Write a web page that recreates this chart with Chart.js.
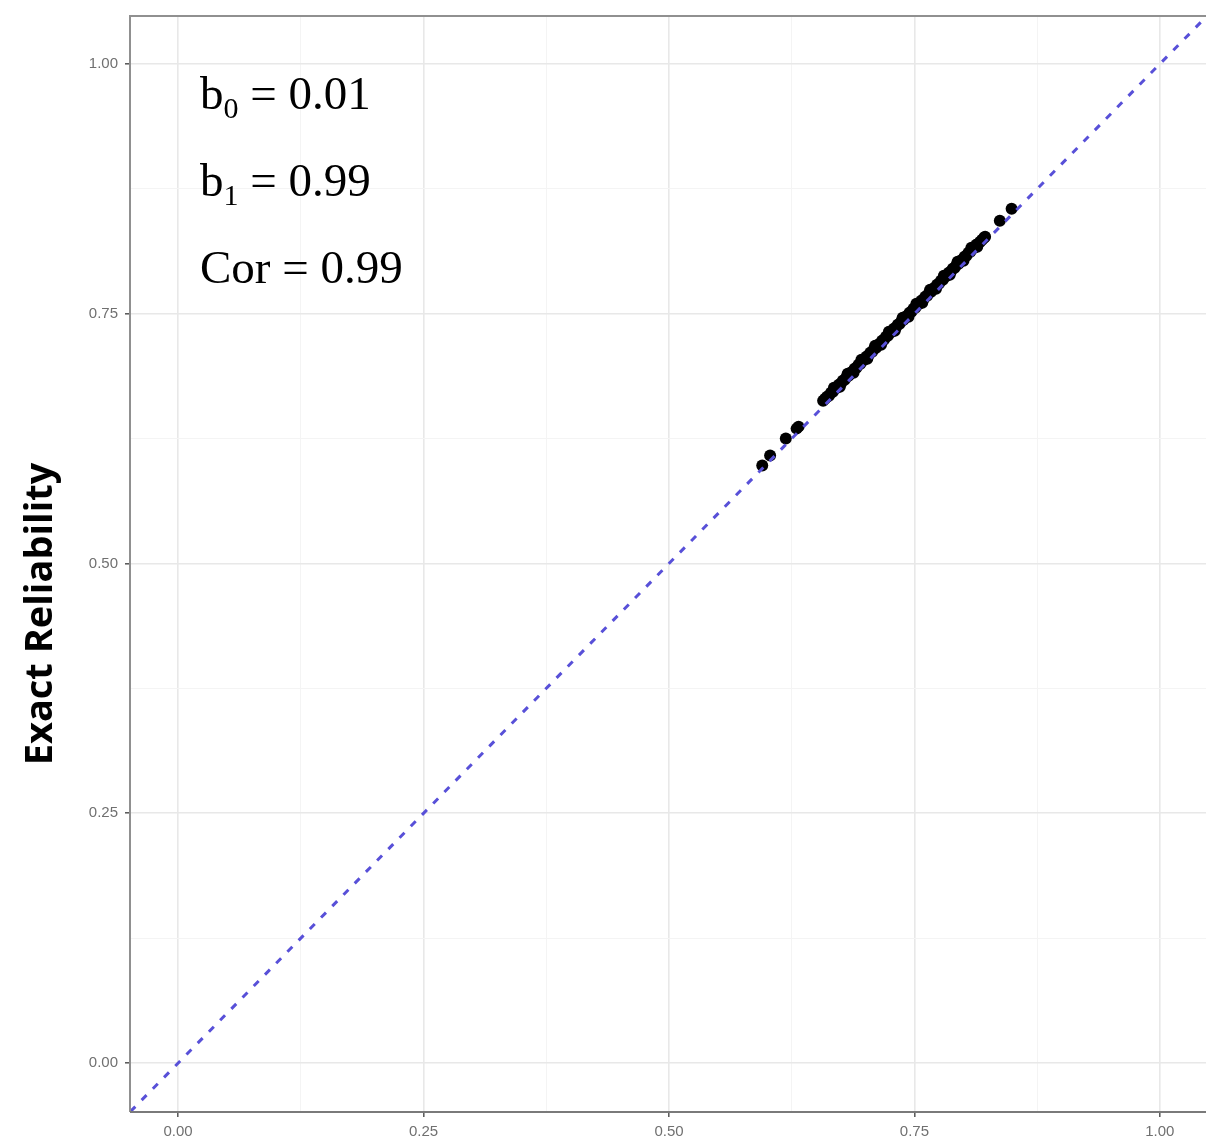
<!DOCTYPE html>
<html>
<head>
<meta charset="utf-8">
<script src="https://cdn.jsdelivr.net/npm/chart.js@4.4.1/dist/chart.umd.min.js"></script>
<style>
  html, body { margin: 0; padding: 0; background: #fff; overflow: hidden; }
  #wrap { width: 1212px; height: 1141px; position: relative; }
</style>
</head>
<body>
<div id="wrap"><canvas id="plotarea"></canvas></div>
<script>
// axis settings
const axisMin = -0.049;
const xAxisMax = 1.047;
const yAxisMax = 1.048;
const majorTicks = [0, 0.25, 0.5, 0.75, 1];
const gridTicks = [0, 0.125, 0.25, 0.375, 0.5, 0.625, 0.75, 0.875, 1];

// reference line y = x
const refLineX = [-0.06, 1.06];
const refLineY = [-0.06, 1.06];

// approximate vs exact reliability
const approxRel = [
  0.595, 0.603, 0.619, 0.630, 0.632,
  0.657, 0.659, 0.661, 0.663, 0.665, 0.667, 0.669, 0.671, 0.673, 0.675,
  0.677, 0.679, 0.681, 0.683, 0.685, 0.687, 0.689, 0.691, 0.693, 0.695,
  0.697, 0.699, 0.701, 0.703, 0.705, 0.707, 0.709, 0.711, 0.713, 0.715,
  0.717, 0.719, 0.721, 0.723, 0.725, 0.727, 0.729, 0.731, 0.733, 0.735,
  0.737, 0.739, 0.741, 0.743, 0.745, 0.747, 0.749, 0.751, 0.753, 0.755,
  0.757, 0.759, 0.761, 0.763, 0.765, 0.767, 0.769, 0.771, 0.773, 0.775,
  0.777, 0.779, 0.781, 0.783, 0.785, 0.787, 0.789, 0.791, 0.793, 0.795,
  0.797, 0.799, 0.801, 0.803, 0.805, 0.807, 0.809, 0.811, 0.813, 0.815,
  0.817, 0.819, 0.821, 0.822,
  0.668, 0.682, 0.696, 0.710, 0.724, 0.738, 0.752, 0.766, 0.780, 0.794, 0.808,
  0.674, 0.688, 0.702, 0.716, 0.730, 0.744, 0.758, 0.772, 0.786, 0.800, 0.814,
  0.837, 0.849
];
const exactRel = [
  0.598, 0.608, 0.625, 0.635, 0.637,
  0.663, 0.665, 0.667, 0.668, 0.671, 0.672, 0.675, 0.676, 0.679, 0.680,
  0.683, 0.684, 0.687, 0.688, 0.691, 0.692, 0.695, 0.696, 0.699, 0.700,
  0.703, 0.704, 0.707, 0.708, 0.711, 0.712, 0.715, 0.716, 0.719, 0.720,
  0.723, 0.724, 0.727, 0.728, 0.731, 0.732, 0.735, 0.736, 0.739, 0.740,
  0.743, 0.744, 0.747, 0.748, 0.751, 0.752, 0.755, 0.756, 0.759, 0.760,
  0.763, 0.764, 0.767, 0.768, 0.771, 0.772, 0.775, 0.776, 0.779, 0.780,
  0.783, 0.784, 0.787, 0.788, 0.791, 0.792, 0.795, 0.796, 0.799, 0.800,
  0.803, 0.804, 0.807, 0.808, 0.811, 0.812, 0.815, 0.816, 0.819, 0.820,
  0.822, 0.824, 0.826, 0.827,
  0.676, 0.690, 0.704, 0.718, 0.732, 0.746, 0.760, 0.774, 0.788, 0.802, 0.816,
  0.677, 0.691, 0.705, 0.719, 0.733, 0.747, 0.761, 0.775, 0.789, 0.803, 0.817,
  0.843, 0.855
];

// annotation text
const statNames = [["b", "0"], ["b", "1"], ["Cor", ""]];
const statValues = ["0.01", "0.99", "0.99"];
const yTitle = "Exact Reliability";

const isMajor = v => majorTicks.some(m => Math.abs(m - v) < 1e-6);

const panelPlugin = {
  id: 'panel',
  afterDatasetsDraw(chart) {
    const { ctx, chartArea: a } = chart;
    ctx.save();
    // panel border: top, left, bottom
    ctx.strokeStyle = '#909090';
    ctx.lineWidth = 2;
    ctx.beginPath();
    ctx.moveTo(a.left, a.bottom);
    ctx.lineTo(a.left, a.top);
    ctx.lineTo(a.right + 2, a.top);
    ctx.stroke();
    ctx.strokeStyle = '#7a7a7a';
    ctx.beginPath();
    ctx.moveTo(a.left, a.bottom);
    ctx.lineTo(a.right + 2, a.bottom);
    ctx.stroke();

    // stats text
    ctx.fillStyle = '#000';
    ctx.textBaseline = 'alphabetic';
    const x0 = a.left + 70;
    const baselines = [a.top + 93, a.top + 180, a.top + 267];
    statNames.forEach((nm, i) => {
      let x = x0;
      ctx.font = '47px "Liberation Serif", "Times New Roman", serif';
      ctx.fillText(nm[0], x, baselines[i]);
      x += ctx.measureText(nm[0]).width;
      if (nm[1]) {
        ctx.font = '30px "Liberation Serif", "Times New Roman", serif';
        ctx.fillText(nm[1], x, baselines[i] + 9);
        x += ctx.measureText(nm[1]).width;
      }
      ctx.font = '47px "Liberation Serif", "Times New Roman", serif';
      ctx.fillText(' = ' + statValues[i], x, baselines[i]);
    });

    // y axis title
    ctx.font = 'bold 38px "Open Sans", "DejaVu Sans", sans-serif';
    ctx.textAlign = 'center';
    ctx.textBaseline = 'middle';
    ctx.translate(41, 614);
    ctx.rotate(-Math.PI / 2);
    ctx.fillText(yTitle, 0, 0);
    ctx.restore();
  }
};

const tickFont = { family: '"Liberation Sans", Arial, sans-serif', size: 15 };

const config = {
  type: 'scatter',
  data: {
    datasets: [
      {
        type: 'line',
        label: 'y = x',
        data: refLineX.map((x, i) => ({ x: x, y: refLineY[i] })),
        borderColor: '#5850d8',
        borderWidth: 3,
        borderDash: [7, 9],
        pointRadius: 0,
        fill: false,
        order: 0
      },
      {
        label: 'reliability',
        data: approxRel.map((x, i) => ({ x: x, y: exactRel[i] })),
        backgroundColor: '#000',
        borderWidth: 0,
        pointRadius: 6,
        order: 1
      }
    ]
  },
  options: {
    responsive: true,
    maintainAspectRatio: false,
    animation: false,
    layout: { padding: { left: 0, right: 0, top: 15, bottom: 0 } },
    plugins: { legend: { display: false }, tooltip: { enabled: false } },
    scales: {
      x: {
        type: 'linear',
        min: axisMin,
        max: xAxisMax,
        afterBuildTicks: s => { s.ticks = gridTicks.map(v => ({ value: v })); },
        afterFit: s => { s.height = 29; },
        border: { display: false },
        grid: {
          color: c => isMajor(c.tick.value) ? '#e8e8e8' : '#f4f4f4',
          lineWidth: c => isMajor(c.tick.value) ? 1.6 : 1,
          tickColor: c => isMajor(c.tick.value) ? '#555' : 'rgba(0,0,0,0)',
          tickLength: 5,
          tickWidth: 1.5
        },
        ticks: {
          autoSkip: false,
          maxRotation: 0,
          padding: 6,
          color: '#707070',
          font: tickFont,
          callback: v => isMajor(v) ? v.toFixed(2) : ''
        }
      },
      y: {
        type: 'linear',
        min: axisMin,
        max: yAxisMax,
        afterBuildTicks: s => { s.ticks = gridTicks.map(v => ({ value: v })); },
        afterFit: s => { s.width = 130; },
        border: { display: false },
        grid: {
          color: c => isMajor(c.tick.value) ? '#e8e8e8' : '#f4f4f4',
          lineWidth: c => isMajor(c.tick.value) ? 1.6 : 1,
          tickColor: c => isMajor(c.tick.value) ? '#555' : 'rgba(0,0,0,0)',
          tickLength: 5,
          tickWidth: 1.5
        },
        ticks: {
          autoSkip: false,
          padding: 7,
          color: '#707070',
          font: tickFont,
          callback: v => isMajor(v) ? v.toFixed(2) : ''
        }
      }
    }
  },
  plugins: [panelPlugin]
};

const myChart = new Chart(document.getElementById('plotarea'), config);
</script>
</body>
</html>
